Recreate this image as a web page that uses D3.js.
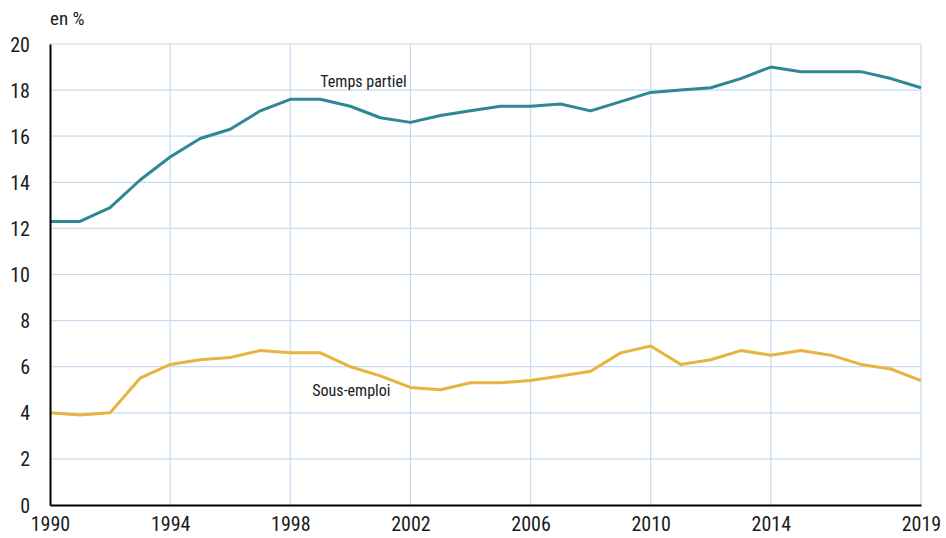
<!DOCTYPE html>
<html><head><meta charset="utf-8">
<script src="https://cdn.jsdelivr.net/npm/d3@7"></script>
<style>
body{margin:0;background:#fff;}
svg text{font-family:'Liberation Sans Narrow','Roboto Condensed','DejaVu Sans Condensed',sans-serif;fill:#1a1a1a;}
</style></head>
<body><svg id="c" width="946" height="538"></svg>
<script>
const years = d3.range(1990, 2020);
const tempsPartiel = [12.3,12.3,12.9,14.1,15.1,15.9,16.3,17.1,17.6,17.6,17.3,16.8,16.6,16.9,17.1,17.3,17.3,17.4,17.1,17.5,17.9,18.0,18.1,18.5,19.0,18.8,18.8,18.8,18.5,18.1];
const sousEmploi = [4.0,3.9,4.0,5.5,6.1,6.3,6.4,6.7,6.6,6.6,6.0,5.6,5.1,5.0,5.3,5.3,5.4,5.6,5.8,6.6,6.9,6.1,6.3,6.7,6.5,6.7,6.5,6.1,5.9,5.4];
const xTicks = [1990,1994,1998,2002,2006,2010,2014,2019];
const yTicks = [0,2,4,6,8,10,12,14,16,18,20];
const seriesNames = ["Temps partiel","Sous-emploi"];

const svg = d3.select("#c");
const m = {l:50, r:25, t:44, b:33};
const W = 946, H = 538;
const x = d3.scaleLinear().domain([1990,2019]).range([m.l, W-m.r]);
const y = d3.scaleLinear().domain([0,20]).range([H-m.b, m.t]);

const grid = svg.append("g");
grid.selectAll("line.h").data(yTicks.slice(1)).enter().append("line")
  .attr("x1", x(1990)).attr("x2", x(2019))
  .attr("y1", d=>y(d)).attr("y2", d=>y(d))
  .attr("stroke","#c6daf2").attr("stroke-width",1.2);
grid.selectAll("line.v").data(xTicks.slice(1)).enter().append("line")
  .attr("x1", d=>x(d)).attr("x2", d=>x(d))
  .attr("y1", y(0)).attr("y2", y(20))
  .attr("stroke","#c6daf2").attr("stroke-width",1.2);

const line = d3.line().x((d,i)=>x(years[i])).y(d=>y(d));
svg.append("path").datum(tempsPartiel).attr("d",line)
  .attr("fill","none").attr("stroke","#2d8795").attr("stroke-width",3).attr("stroke-linejoin","round");
svg.append("path").datum(sousEmploi).attr("d",line)
  .attr("fill","none").attr("stroke","#e6b43f").attr("stroke-width",3).attr("stroke-linejoin","round");

// axes
const yAxis = svg.append("g").attr("transform",`translate(${m.l},0)`)
  .call(d3.axisLeft(y).tickValues(yTicks).tickSize(0).tickPadding(20).tickFormat(d3.format("d")));
yAxis.select(".domain").attr("stroke","#000").attr("stroke-width",2);
yAxis.selectAll("text").style("font-size","20px").attr("dy","0.35em");

const xAxis = svg.append("g").attr("transform",`translate(0,${y(0)})`)
  .call(d3.axisBottom(x).tickValues(xTicks).tickSize(0).tickPadding(12).tickFormat(d3.format("d")));
xAxis.select(".domain").attr("stroke","#000").attr("stroke-width",2);
xAxis.selectAll("text").style("font-size","20px");

svg.append("text").attr("x",50).attr("y",25).style("font-size","19px").text("en %");
svg.append("text").attr("x",x(1999)).attr("y",y(18.13)).style("font-size","16px").text(seriesNames[0]);
svg.append("text").attr("x",x(1998)+22).attr("y",y(4.72)).style("font-size","16px").text(seriesNames[1]);
</script></body></html>
